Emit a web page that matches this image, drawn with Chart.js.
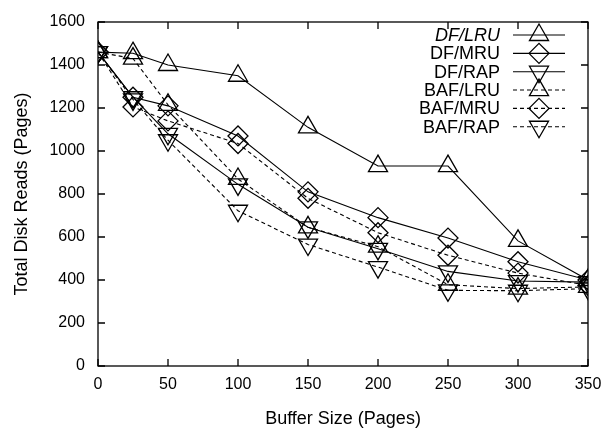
<!DOCTYPE html>
<html>
<head>
<meta charset="utf-8">
<script src="https://cdn.jsdelivr.net/npm/chart.js@4/dist/chart.umd.min.js"></script>
<style>
  html, body { margin: 0; padding: 0; background: #fff; }
  #wrap { width: 603px; height: 431px; }
</style>
</head>
<body>
<div id="wrap"><canvas id="c" width="603" height="431"></canvas></div>
<script>
const bufferSizes = [0, 25, 50, 100, 150, 200, 250, 300, 350];
const dfLru  = [1460, 1455, 1400, 1350, 1110, 930, 930, 582, 400];
const dfMru  = [1460, 1250, 1210, 1070, 810, 690, 595, 485, 400];
const dfRap  = [1460, 1250, 1080, 845, 645, 545, 440, 395, 390];
const bafLru = [1460, 1430, 1215, 870, 645, 555, 378, 360, 368];
const bafMru = [1460, 1205, 1140, 1035, 780, 620, 515, 432, 375];
const bafRap = [1460, 1240, 1050, 722, 565, 460, 352, 350, 360];
const seriesNames = ['DF/LRU', 'DF/MRU', 'DF/RAP', 'BAF/LRU', 'BAF/MRU', 'BAF/RAP'];
const xTicks = [0, 50, 100, 150, 200, 250, 300, 350];
const yTicks = [0, 200, 400, 600, 800, 1000, 1200, 1400, 1600];

const FONT = '"Liberation Sans", Arial, Helvetica, sans-serif';
const toPts = arr => arr.map((v, i) => ({ x: bufferSizes[i], y: v }));

function ds(label, values, style, dashed) {
  const isTri = style !== 'diamond';
  return {
    label,
    data: toPts(values),
    showLine: true,
    borderColor: '#000',
    borderWidth: 1.1,
    borderDash: dashed ? [4, 3] : [],
    pointStyle: isTri ? 'triangle' : 'rectRot',
    pointRotation: style === 'down' ? 180 : 0,
    pointRadius: isTri ? 11 : 10,
    pointBorderWidth: 1.3,
    pointBorderColor: '#000',
    pointBackgroundColor: 'rgba(0,0,0,0)',
    fill: false,
    tension: 0,
    _style: style,
    _dashed: dashed
  };
}

const datasets = [
  ds(seriesNames[0], dfLru, 'up', false),
  ds(seriesNames[1], dfMru, 'diamond', false),
  ds(seriesNames[2], dfRap, 'down', false),
  ds(seriesNames[3], bafLru, 'up', true),
  ds(seriesNames[4], bafMru, 'diamond', true),
  ds(seriesNames[5], bafRap, 'down', true)
];

function drawMarker(ctx, style, x, y) {
  ctx.beginPath();
  if (style === 'diamond') {
    const r = 10;
    ctx.moveTo(x - r, y); ctx.lineTo(x, y - r); ctx.lineTo(x + r, y); ctx.lineTo(x, y + r);
  } else {
    const r = 11;
    let rad = style === 'down' ? Math.PI : 0;
    for (let k = 0; k < 3; k++) {
      const px = x + Math.sin(rad) * r, py = y - Math.cos(rad) * r;
      if (k === 0) ctx.moveTo(px, py); else ctx.lineTo(px, py);
      rad += 2 * Math.PI / 3;
    }
  }
  ctx.closePath();
  ctx.stroke();
}

const framePlugin = {
  id: 'frame',
  afterDatasetsDraw(chart) {
    const { ctx, chartArea: a, scales: { x, y } } = chart;
    ctx.save();
    ctx.strokeStyle = '#000';
    ctx.lineWidth = 1.3;
    ctx.setLineDash([]);
    ctx.strokeRect(a.left, a.top, a.right - a.left, a.bottom - a.top);
    const L = 7;
    ctx.beginPath();
    x.ticks.forEach(t => {
      const px = x.getPixelForValue(t.value);
      ctx.moveTo(px, a.bottom); ctx.lineTo(px, a.bottom - L);
      ctx.moveTo(px, a.top); ctx.lineTo(px, a.top + L);
    });
    y.ticks.forEach(t => {
      const py = y.getPixelForValue(t.value);
      ctx.moveTo(a.left, py); ctx.lineTo(a.left + L, py);
      ctx.moveTo(a.right, py); ctx.lineTo(a.right - L, py);
    });
    ctx.stroke();
    ctx.restore();
  },
  afterDraw(chart) {
    const { ctx } = chart;
    ctx.save();
    const textRight = 500, lineL = 513, lineR = 565, markX = 539;
    const y0 = 35, dy = 18.35;
    chart.data.datasets.forEach((d, i) => {
      const yy = y0 + i * dy;
      ctx.fillStyle = '#000';
      ctx.font = (i === 0 ? 'italic ' : '') + '18px ' + FONT;
      ctx.textAlign = 'right';
      ctx.textBaseline = 'middle';
      ctx.fillText(d.label, textRight, yy + 1);
      ctx.strokeStyle = '#000';
      ctx.lineWidth = 1.1;
      ctx.setLineDash(d._dashed ? [4, 3] : []);
      ctx.beginPath();
      ctx.moveTo(lineL, yy); ctx.lineTo(lineR, yy);
      ctx.stroke();
      ctx.setLineDash([]);
      ctx.lineWidth = 1.3;
      drawMarker(ctx, d._style, markX, yy);
    });
    ctx.restore();
  }
};

new Chart(document.getElementById('c'), {
  type: 'scatter',
  data: { datasets },
  options: {
    responsive: false,
    animation: false,
    devicePixelRatio: 1,
    layout: { padding: { top: 22, right: 15, left: 0, bottom: 0 } },
    plugins: { legend: { display: false }, tooltip: { enabled: false } },
    scales: {
      x: {
        type: 'linear',
        min: 0, max: 350,
        afterBuildTicks: s => { s.ticks = xTicks.map(v => ({ value: v })); },
        afterFit: s => { s.height = 65; s.paddingLeft = 0; s.paddingRight = 0; },
        grid: { display: false, drawTicks: false },
        border: { display: false },
        ticks: { color: '#000', font: { family: FONT, size: 16 }, padding: 9, maxRotation: 0, callback: v => String(v) },
        title: { display: true, text: 'Buffer Size (Pages)', color: '#000', font: { family: FONT, size: 18 }, padding: { top: 0, bottom: 1 } }
      },
      y: {
        type: 'linear',
        min: 0, max: 1600,
        afterBuildTicks: s => { s.ticks = yTicks.map(v => ({ value: v })); },
        afterFit: s => { s.width = 98; s.paddingTop = 0; s.paddingBottom = 0; },
        grid: { display: false, drawTicks: false },
        border: { display: false },
        ticks: { color: '#000', font: { family: FONT, size: 16 }, padding: 13, callback: v => String(v) },
        title: { display: true, text: 'Total Disk Reads (Pages)', color: '#000', font: { family: FONT, size: 18 }, padding: { top: 11, bottom: 0 } }
      }
    }
  },
  plugins: [framePlugin]
});
</script>
</body>
</html>
